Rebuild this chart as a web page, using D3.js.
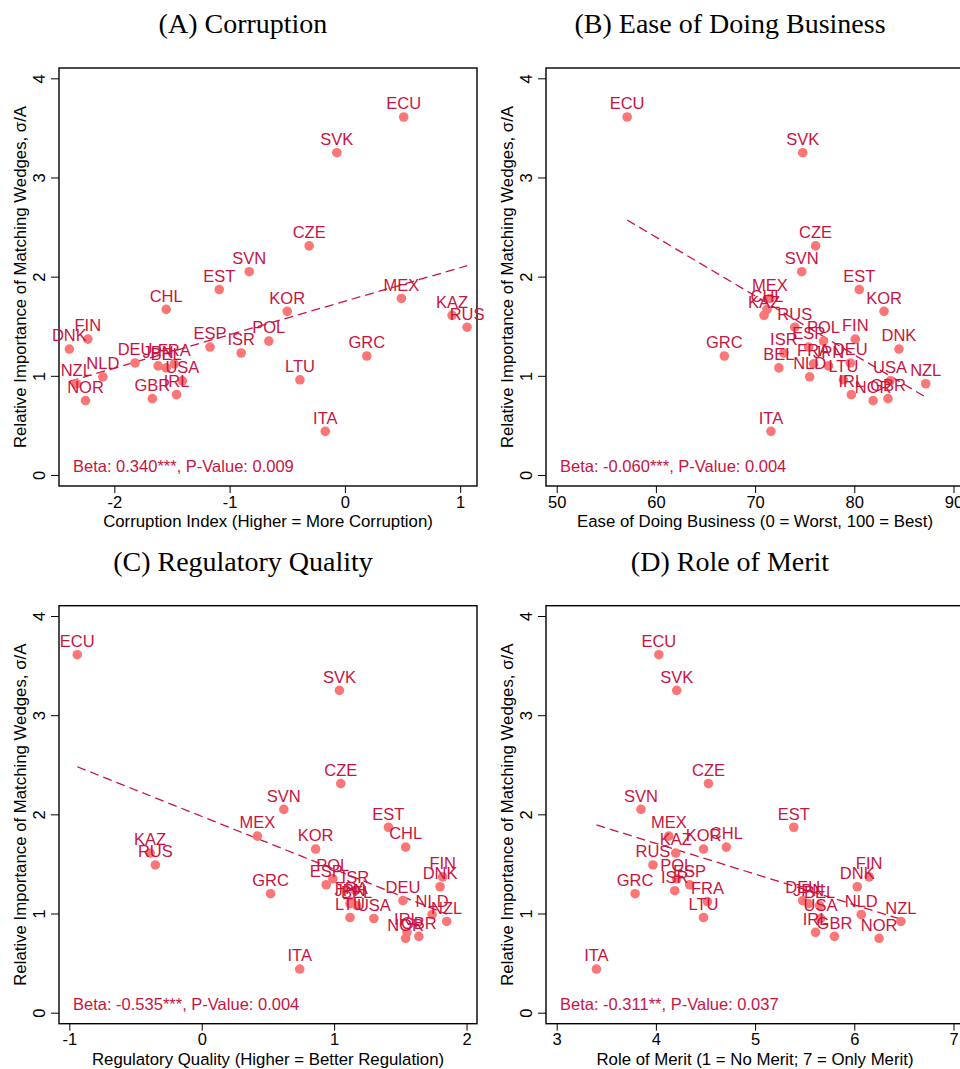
<!DOCTYPE html>
<meta charset="utf-8">
<style>

body {
  margin: 0;
  background: #fff;
}

.tick line,
.frame {
  stroke: #000;
  fill: none;
}

.lbl {
  fill: #c8143f;
}

</style>
<body>
<script src="https://d3js.org/d3.v7.min.js"></script>
<script>

// countries and the common y variable (sigma / A)
var countries = ["ECU","SVK","CZE","SVN","EST","MEX","CHL","KOR","KAZ","RUS",
                 "FIN","POL","ESP","DNK","ISR","GRC","DEU","FRA","JPN","BEL",
                 "NLD","LTU","USA","NZL","IRL","GBR","NOR","ITA"];
var sigmaA = [3.61, 3.25, 2.31, 2.05, 1.87, 1.78, 1.67, 1.65, 1.61, 1.49,
              1.37, 1.35, 1.29, 1.27, 1.23, 1.20, 1.13, 1.12, 1.10, 1.08,
              0.99, 0.96, 0.95, 0.92, 0.81, 0.77, 0.75, 0.44];

// x variables, same order as countries
var corruption = [0.51, -0.07, -0.31, -0.83, -1.09, 0.49, -1.55, -0.50, 0.93, 1.06,
                  -2.23, -0.66, -1.17, -2.39, -0.90, 0.19, -1.82, -1.48, -1.62, -1.55,
                  -2.10, -0.39, -1.41, -2.33, -1.46, -1.67, -2.25, -0.17];
var easeBusiness = [57.1, 74.8, 76.1, 74.7, 80.5, 71.5, 71.2, 83.0, 70.9, 74.0,
                    80.1, 76.9, 75.4, 84.5, 72.9, 66.9, 79.6, 75.9, 77.4, 72.4,
                    75.5, 78.9, 83.6, 87.2, 79.7, 83.4, 81.9, 71.6];
var regQuality = [-0.94, 1.04, 1.05, 0.62, 1.41, 0.42, 1.54, 0.86, -0.39, -0.35,
                  1.82, 0.99, 0.94, 1.80, 1.16, 0.52, 1.52, 1.13, 1.12, 1.17,
                  1.74, 1.12, 1.30, 1.85, 1.55, 1.64, 1.54, 0.74];
var roleMerit = [4.03, 4.21, 4.53, 3.85, 5.39, 4.13, 4.71, 4.48, 4.20, 3.97,
                 6.15, 4.21, 4.34, 6.03, 4.19, 3.79, 5.48, 4.52, 5.54, 5.65,
                 6.07, 4.48, 5.66, 6.47, 5.61, 5.80, 6.25, 3.40];

var yTicks = [0, 1, 2, 3, 4];

var titles = ["(A) Corruption", "(B) Ease of Doing Business", "(C) Regulatory Quality", "(D) Role of Merit"];
var xLabels = ["Corruption Index (Higher = More Corruption)",
               "Ease of Doing Business (0 = Worst, 100 = Best)",
               "Regulatory Quality (Higher = Better Regulation)",
               "Role of Merit (1 = No Merit; 7 = Only Merit)"];
var xTicks = [[-2, -1, 0, 1], [50, 60, 70, 80, 90], [-1, 0, 1, 2], [3, 4, 5, 6, 7]];
var xDomains = [[-2.48, 1.146], [48.92, 91.06], [-1.078, 2.079], [2.892, 7.106]];
var betaText = ["Beta: 0.340***, P-Value: 0.009", "Beta: -0.060***, P-Value: 0.004",
                "Beta: -0.535***, P-Value: 0.004", "Beta: -0.311**, P-Value: 0.037"];
var xSeries = [corruption, easeBusiness, regQuality, roleMerit];

var yLabel = "Relative Importance of Matching Wedges, \u03c3/A";

var plot = {left: 59, right: 477, top: 68, bottom: 486},
    panelW = 487, panelH = 537.7;

var sans = "'Liberation Sans', Arial, sans-serif",
    serif = "'Liberation Serif', 'Times New Roman', serif",
    red = "#c8143f",
    dotColor = "#fb7777";

var svg = d3.select("body").append("svg")
    .attr("width", 960)
    .attr("height", 1069)
    .style("display", "block");

svg.append("rect").attr("width", 960).attr("height", 1069).attr("fill", "#fff");

xSeries.forEach(function(xs, p) {
  var g = svg.append("g")
      .attr("transform", "translate(" + (p % 2) * panelW + "," + Math.floor(p / 2) * panelH + ")");

  var data = countries.map(function(c, i) { return {name: c, x: xs[i], y: sigmaA[i]}; });

  var x = d3.scaleLinear().domain(xDomains[p]).range([plot.left, plot.right]);
  var y = d3.scaleLinear().domain([-0.111, 4.104]).range([plot.bottom, plot.top]);

  g.append("text")
      .attr("x", 243)
      .attr("y", 33)
      .attr("text-anchor", "middle")
      .style("font-family", serif)
      .style("font-size", "28px")
      .text(titles[p]);

  // y axis, Stata-style rotated tick labels
  var ya = g.append("g")
      .attr("transform", "translate(" + plot.left + ",0)")
      .call(d3.axisLeft(y).tickValues(yTicks).tickSize(8).tickFormat(function(d) { return String(d); }));
  ya.select(".domain").remove();
  ya.selectAll("text")
      .attr("x", 0)
      .attr("dy", 0)
      .attr("transform", "translate(-14,0)rotate(-90)")
      .attr("text-anchor", "middle")
      .style("font-family", sans)
      .style("font-size", "16.5px")
      .style("fill", "#000");

  var xa = g.append("g")
      .attr("transform", "translate(0," + plot.bottom + ")")
      .call(d3.axisBottom(x).tickValues(xTicks[p]).tickSize(7).tickFormat(function(d) { return String(d); }));
  xa.select(".domain").remove();
  xa.selectAll("text")
      .style("font-family", sans)
      .style("font-size", "16.5px")
      .style("fill", "#000");

  g.append("rect")
      .attr("class", "frame")
      .attr("x", plot.left)
      .attr("y", plot.top)
      .attr("width", plot.right - plot.left)
      .attr("height", plot.bottom - plot.top)
      .attr("stroke-width", 1.4);

  g.append("text")
      .attr("transform", "translate(26," + (plot.top + plot.bottom) / 2 + ")rotate(-90)")
      .attr("text-anchor", "middle")
      .style("font-family", sans)
      .style("font-size", "16.8px")
      .text(yLabel);

  g.append("text")
      .attr("x", (plot.left + plot.right) / 2)
      .attr("y", 527)
      .attr("text-anchor", "middle")
      .style("font-family", sans)
      .style("font-size", "16.8px")
      .text(xLabels[p]);

  // linear fit
  var mx = d3.mean(data, function(d) { return d.x; }),
      my = d3.mean(data, function(d) { return d.y; });
  var sxy = d3.sum(data, function(d) { return (d.x - mx) * (d.y - my); }),
      sxx = d3.sum(data, function(d) { return (d.x - mx) * (d.x - mx); });
  var b = sxy / sxx, a = my - b * mx;
  var ext = d3.extent(data, function(d) { return d.x; });

  g.append("line")
      .attr("x1", x(ext[0]))
      .attr("y1", y(a + b * ext[0]))
      .attr("x2", x(ext[1]))
      .attr("y2", y(a + b * ext[1]))
      .attr("stroke", red)
      .attr("stroke-width", 1.3)
      .attr("stroke-dasharray", "9,5");

  g.selectAll(".dot")
      .data(data)
    .enter().append("circle")
      .attr("class", "dot")
      .attr("r", 4.8)
      .attr("cx", function(d) { return x(d.x); })
      .attr("cy", function(d) { return y(d.y); })
      .style("fill", dotColor);

  g.selectAll(".lbl")
      .data(data)
    .enter().append("text")
      .attr("class", "lbl")
      .attr("x", function(d) { return x(d.x); })
      .attr("y", function(d) { return y(d.y) - 7.7; })
      .attr("text-anchor", "middle")
      .style("font-family", sans)
      .style("font-size", "16.5px")
      .text(function(d) { return d.name; });

  g.append("text")
      .attr("x", plot.left + 14)
      .attr("y", 472)
      .style("font-family", sans)
      .style("font-size", "16.5px")
      .style("fill", red)
      .text(betaText[p]);
});

</script>
